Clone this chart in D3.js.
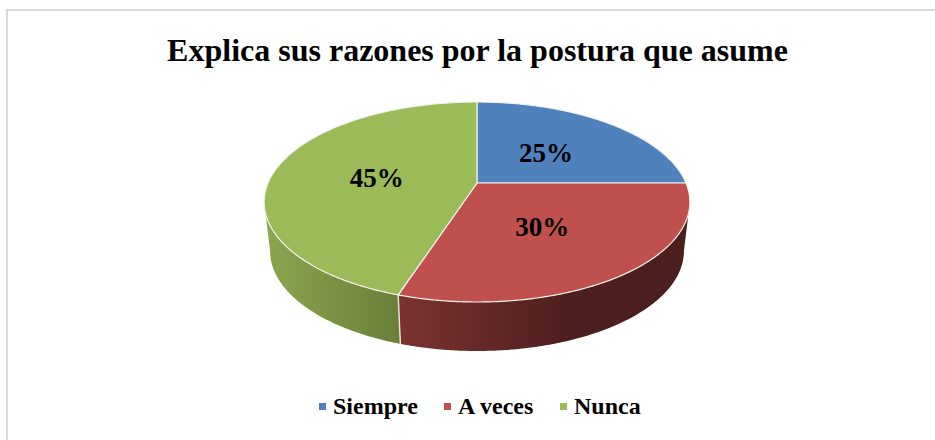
<!DOCTYPE html>
<html>
<head>
<meta charset="utf-8">
<script src="https://cdn.jsdelivr.net/npm/d3@7"></script>
<style>
  html, body { margin: 0; background: #fff; }
  svg { display: block; }
  text { font-family: "Liberation Serif", serif; font-weight: bold; fill: #000; }
</style>
</head>
<body>
<div id="chart"></div>
<script>
const chartTitle = 'Explica sus razones por la postura que asume';
const categories = ['Siempre', 'A veces', 'Nunca'];
const percents = [25, 30, 45];
const colors = ['#4f81bd', '#c0504d', '#9bbb59'];
const sideColors = [null, ['#7c3330', '#4c1e1d'], ['#8ca64f', '#6a7f39']];

const width = 935;
const height = 440;

const svg = d3.select('#chart').append('svg')
  .attr('width', width)
  .attr('height', height);

svg.append('path')
  .attr('d', `M7,440V10H935`)
  .attr('fill', 'none')
  .attr('stroke', '#d9d9d9')
  .attr('stroke-width', 2);

svg.append('text')
  .attr('x', 477.5)
  .attr('y', 61)
  .attr('text-anchor', 'middle')
  .attr('font-size', 32)
  .text(chartTitle);

// perspective of the tilted pie
const cx = 477, cy = 183, rx = 209, ry = 96.4, k = 0.19;
const depth = 49, shrink = 0.972;

function project(angle, isBottom) {
  const u = Math.sin(angle);
  const v = -Math.cos(angle);
  const w = 1 - k * v;
  const s = isBottom ? shrink : 1;
  return [cx + rx * s * u / w, cy + (isBottom ? depth : 0) + ry * v / w];
}

const arcs = d3.pie().sort(null)(percents);
const line = d3.line();
const stepAngle = Math.PI / 180 / 2;

const anglesOf = (a, b) => d3.range(a, b, stepAngle).concat([b]);

const allAngles = anglesOf(0, 2 * Math.PI);
const leftAngle = d3.least(allAngles, a => project(a, false)[0]);
const rightAngle = d3.least(allAngles, a => -project(a, false)[0]);

const defs = svg.append('defs');

// sides: only the parts that face the viewer, the top face covers the rest
const sides = arcs.map((d, i) => {
  const start = Math.max(d.startAngle, rightAngle);
  const end = Math.min(d.endAngle, leftAngle);
  return { i, start, end };
}).filter(d => d.end > d.start && sideColors[d.i]);

sides.forEach(d => {
  const xs = anglesOf(d.start, d.end).map(a => project(a, false)[0]);
  const grad = defs.append('linearGradient')
    .attr('id', `side${d.i}`)
    .attr('gradientUnits', 'userSpaceOnUse')
    .attr('x1', d3.min(xs))
    .attr('x2', d.i === 1 ? d3.min(xs) + 175 : d3.max(xs))
    .attr('y1', 0).attr('y2', 0);
  grad.append('stop').attr('offset', 0).attr('stop-color', sideColors[d.i][0]);
  grad.append('stop').attr('offset', 1).attr('stop-color', sideColors[d.i][1]);
});

svg.selectAll('.side')
  .data(sides)
  .join('path')
  .attr('class', 'side')
  .attr('fill', d => `url(#side${d.i})`)
  .attr('stroke', 'none')
  .attr('d', d => {
    const angles = anglesOf(d.start, d.end);
    const pts = angles.map(a => project(a, false))
      .concat(angles.slice().reverse().map(a => project(a, true)));
    return line(pts) + 'Z';
  });

// white seam where the two visible sides meet
const seam = arcs[1].endAngle;
svg.append('path')
  .attr('d', line([project(seam, false), project(seam, true)]))
  .attr('stroke', '#e9e9e4')
  .attr('stroke-width', 1.4);

// top face
svg.selectAll('.slice')
  .data(arcs)
  .join('path')
  .attr('class', 'slice')
  .attr('fill', (d, i) => colors[i])
  .attr('stroke', '#f2f2ee')
  .attr('stroke-width', 1.2)
  .attr('stroke-linejoin', 'round')
  .attr('d', d => {
    const pts = anglesOf(d.startAngle, d.endAngle).map(a => project(a, false));
    return line([[cx, cy], ...pts]) + 'Z';
  });

// data labels, placed by hand as fractions of the way to the slice middle
const labelFracX = [0.53, 0.45, 0.5];
const labelFracY = [0.5, 0.48, 0.34];
svg.selectAll('.pct')
  .data(arcs)
  .join('text')
  .attr('class', 'pct')
  .attr('text-anchor', 'middle')
  .attr('font-size', 27)
  .attr('x', (d, i) => {
    const mid = (d.startAngle + d.endAngle) / 2;
    return cx + (project(mid, false)[0] - cx) * labelFracX[i];
  })
  .attr('y', (d, i) => {
    const mid = (d.startAngle + d.endAngle) / 2;
    return cy + (project(mid, false)[1] - cy) * labelFracY[i] + 9;
  })
  .text(d => d.data + '%');

// legend
const legendX = d3.scaleOrdinal().domain(categories).range([318, 443, 559]);
const legend = svg.selectAll('.legend')
  .data(categories)
  .join('g')
  .attr('class', 'legend')
  .attr('transform', d => `translate(${legendX(d)},414)`);

legend.append('rect')
  .attr('x', 1).attr('y', -11)
  .attr('width', 7).attr('height', 7)
  .attr('fill', (d, i) => colors[i]);

legend.append('text')
  .attr('x', 15)
  .attr('font-size', 24)
  .text(d => d);
</script>
</body>
</html>
